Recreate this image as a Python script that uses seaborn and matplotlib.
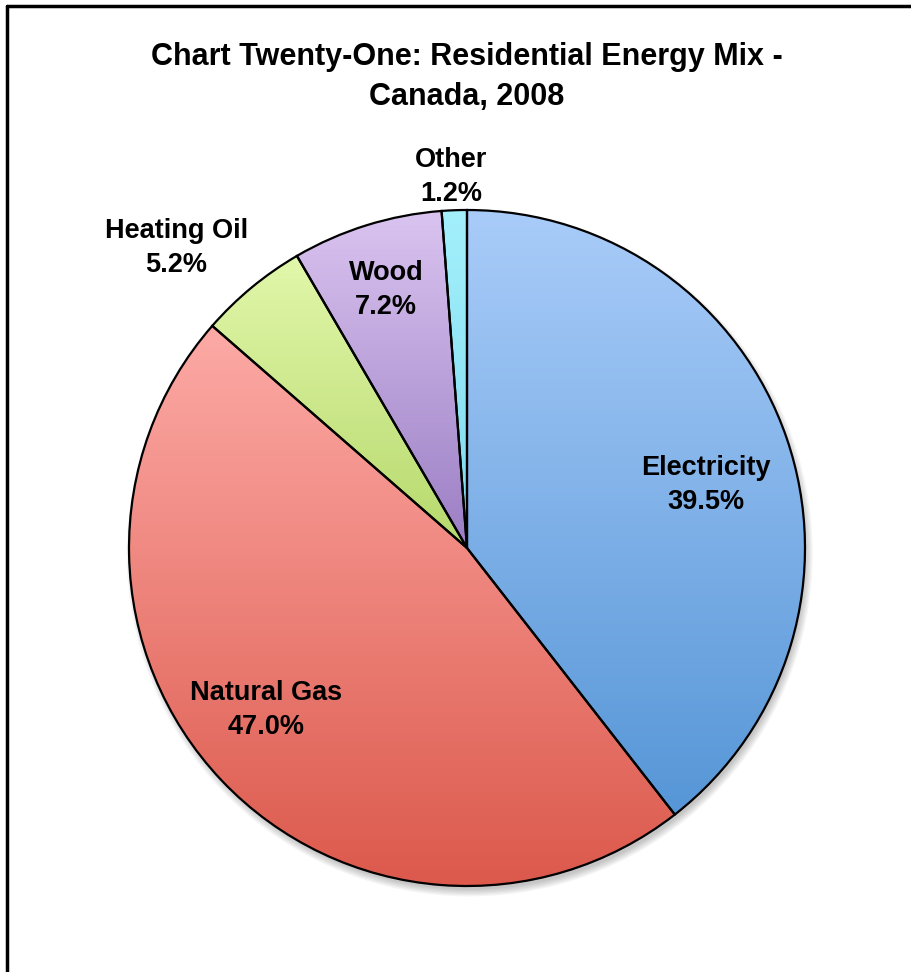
import numpy as np
import seaborn as sns
import matplotlib
matplotlib.use("Agg")
import matplotlib.pyplot as plt
from matplotlib.colors import LinearSegmentedColormap
from matplotlib.patches import Circle
from matplotlib.lines import Line2D

# data
sources = ["Electricity", "Natural Gas", "Heating Oil", "Wood", "Other"]
shares = [39.5, 47.0, 5.2, 7.2, 1.2]

# gradient colours (top, bottom) per slice
top_colors = ["#a9ccf9", "#fdaaa6", "#e2f7ab", "#dac4f0", "#a3f0fb"]
bottom_colors = ["#5696d7", "#dc594c", "#b6d96c", "#9b7ec4", "#7fd9ee"]

# label placement: radius (fraction of R) and angle shift in degrees
label_r = [0.73, 0.764, 1.236, 0.80, 1.10]
label_shift = [-4.1, -4.6, 4.5, 0.1, 0.3]

sns.set_theme(style="white")
plt.rcParams["font.family"] = ["Liberation Sans Narrow", "Liberation Sans", "DejaVu Sans"]

W, H = 911, 972
cx, cy, R = 467, 548, 338
fig = plt.figure(figsize=(W / 100, H / 100), dpi=100)
ax = fig.add_axes([0, 0, 1, 1])

wedges, _ = ax.pie(shares, startangle=90, counterclock=False,
                   wedgeprops=dict(edgecolor="black", linewidth=1.6, facecolor="none", zorder=3))

# soft shadow under the pie
for i in range(6):
    ax.add_patch(Circle((0.008, -0.016), 0.995 + 0.004 * i, color="black",
                        alpha=0.04, lw=0, zorder=0))
ax.add_patch(Circle((0, 0), 1.0, color="white", lw=0, zorder=0.5))

grad = np.linspace(0, 1, 256).reshape(-1, 1)
for w, top, bot in zip(wedges, top_colors, bottom_colors):
    bb = w.get_path().get_extents()
    cmap = LinearSegmentedColormap.from_list("g", [bot, top])
    im = ax.imshow(grad, extent=[bb.x0, bb.x1, bb.y0, bb.y1], origin="lower",
                   cmap=cmap, aspect="auto", zorder=1, interpolation="bilinear")
    im.set_clip_path(w)

for w, name, val, r, sh in zip(wedges, sources, shares, label_r, label_shift):
    ang = np.deg2rad((w.theta1 + w.theta2) / 2 + sh)
    ax.text(r * np.cos(ang), r * np.sin(ang), f"{name}\n{val:.1f}%",
            ha="center", va="center", fontsize=19.5, fontweight="bold",
            linespacing=1.4, color="black", zorder=5)

ax.set_xlim(-cx / R, (W - cx) / R)
ax.set_ylim(-(H - cy) / R, cy / R)
ax.set_aspect("auto")
ax.axis("off")

fig.text(cx / W, 1 - 77 / H, "Chart Twenty-One: Residential Energy Mix -\nCanada, 2008",
         ha="center", va="center", fontsize=22, fontweight="bold", linespacing=1.45,
         color="black")

# frame (left and top edges visible)
fig.add_artist(Line2D([6.5 / W, 6.5 / W], [0, 1 - 6.5 / H], color="black", lw=2.5,
                      transform=fig.transFigure))
fig.add_artist(Line2D([6.5 / W, 1], [1 - 6.5 / H, 1 - 6.5 / H], color="black", lw=2.5,
                      transform=fig.transFigure))

fig.savefig("out.png", dpi=100)
